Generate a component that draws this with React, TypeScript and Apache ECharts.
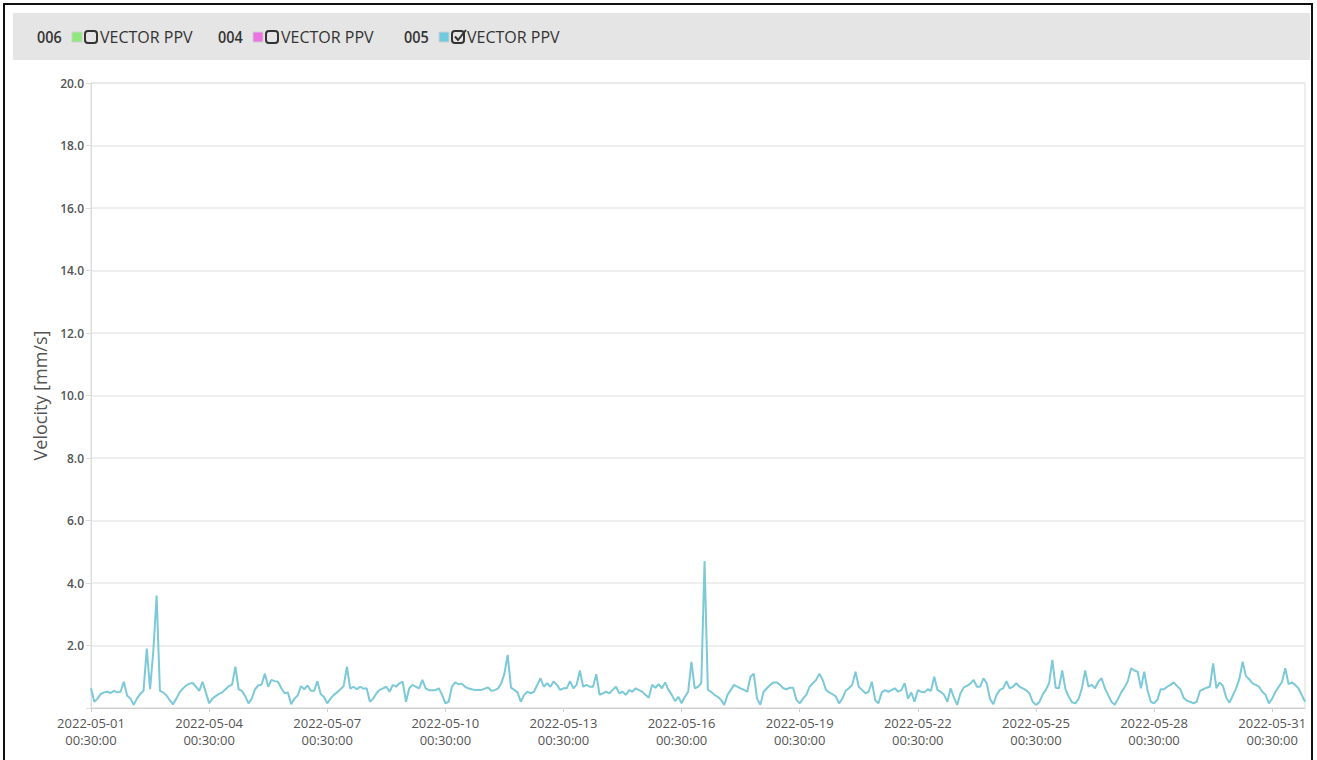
import { useEffect, useRef } from 'react';
import * as echarts from 'echarts';

// ---- axis data ----
const xTickDates = [
  '2022-05-01', '2022-05-04', '2022-05-07', '2022-05-10', '2022-05-13', '2022-05-16',
  '2022-05-19', '2022-05-22', '2022-05-25', '2022-05-28', '2022-05-31',
];
const xTickTime = '00:30:00';
const stepHours = 2; // one sample every 2 h starting 2022-05-01 00:30
const tickEveryHours = 72;
const xMaxHours = 740;
const yMin = 0;
const yMax = 20;
const yInterval = 2;
const yAxisName = 'Velocity [mm/s]';

// ---- legend ----
const legendIds = ['006', '004', '005'];
const legendColors = ['#8fe87a', '#ea72e2', '#70cbe0'];
const legendChecked = [false, false, true];
const legendLabel = 'VECTOR PPV';

// ---- series 005 VECTOR PPV (mm/s), 2-hour samples ----
const week1 = [
  0.63, 0.2, 0.3, 0.45, 0.5, 0.52, 0.48, 0.55, 0.5, 0.52, 0.84, 0.4,
  0.3, 0.1, 0.3, 0.45, 0.55, 1.9, 0.6, 1.83, 3.6, 0.55, 0.5, 0.4,
  0.25, 0.12, 0.3, 0.5, 0.62, 0.72, 0.78, 0.8, 0.68, 0.55, 0.84, 0.5,
  0.15, 0.3, 0.38, 0.45, 0.5, 0.6, 0.7, 0.75, 1.32, 0.6, 0.55, 0.38,
  0.15, 0.3, 0.6, 0.72, 0.75, 1.1, 0.68, 0.9, 0.86, 0.84, 0.63, 0.47,
  0.5, 0.12, 0.3, 0.4, 0.7, 0.6, 0.72, 0.55, 0.55, 0.86, 0.45, 0.35,
  0.15, 0.3, 0.42, 0.5, 0.6, 0.7, 1.32, 0.62, 0.68, 0.6, 0.68, 0.62,
];
const week2 = [
  0.63, 0.2, 0.3, 0.47, 0.58, 0.63, 0.68, 0.52, 0.74, 0.68, 0.79, 0.84,
  0.2, 0.63, 0.74, 0.68, 0.63, 0.9, 0.63, 0.57, 0.57, 0.57, 0.63, 0.42,
  0.15, 0.2, 0.68, 0.82, 0.76, 0.78, 0.68, 0.63, 0.6, 0.58, 0.58, 0.58,
  0.62, 0.66, 0.55, 0.57, 0.62, 0.78, 1.1, 1.7, 0.65, 0.58, 0.5, 0.2,
  0.42, 0.52, 0.47, 0.52, 0.74, 0.95, 0.68, 0.79, 0.68, 0.85, 0.74, 0.58,
  0.63, 0.63, 0.86, 0.63, 0.74, 1.2, 0.68, 0.74, 0.68, 0.68, 1.08, 0.42,
  0.47, 0.52, 0.47, 0.58, 0.68, 0.47, 0.52, 0.42, 0.57, 0.52, 0.63, 0.57,
];
const week3 = [
  0.52, 0.42, 0.33, 0.74, 0.65, 0.76, 0.63, 0.82, 0.58, 0.42, 0.22, 0.36,
  0.15, 0.36, 0.52, 1.48, 0.63, 0.68, 0.79, 4.7, 0.58, 0.52, 0.42, 0.36,
  0.26, 0.1, 0.42, 0.58, 0.74, 0.68, 0.63, 0.58, 0.52, 1.0, 1.1, 0.3,
  0.1, 0.52, 0.63, 0.74, 0.82, 0.82, 0.74, 0.63, 0.6, 0.65, 0.65, 0.26,
  0.15, 0.3, 0.42, 0.68, 0.79, 0.9, 1.1, 0.9, 0.58, 0.5, 0.44, 0.37,
  0.15, 0.3, 0.55, 0.63, 0.74, 1.16, 0.68, 0.58, 0.47, 0.52, 0.84, 0.25,
  0.15, 0.5, 0.57, 0.52, 0.57, 0.63, 0.52, 0.58, 0.79, 0.3, 0.5, 0.2,
];
const week4 = [
  0.57, 0.52, 0.5, 0.6, 0.55, 1.0, 0.57, 0.52, 0.42, 0.2, 0.63, 0.33,
  0.1, 0.47, 0.66, 0.71, 0.78, 0.9, 0.68, 0.68, 0.95, 0.79, 0.29, 0.12,
  0.42, 0.58, 0.63, 0.86, 0.63, 0.68, 0.79, 0.68, 0.63, 0.57, 0.47, 0.2,
  0.1, 0.18, 0.42, 0.58, 0.79, 1.54, 0.65, 0.63, 1.2, 0.6, 0.36, 0.18,
  0.15, 0.29, 0.63, 1.2, 0.68, 0.74, 0.63, 0.84, 0.95, 0.63, 0.42, 0.2,
  0.1, 0.29, 0.5, 0.66, 0.86, 1.27, 1.2, 1.16, 0.63, 1.16, 0.57, 0.2,
  0.15, 0.26, 0.6, 0.6, 0.68, 0.74, 0.82, 0.7, 0.6, 0.33, 0.23, 0.2,
];
const week5 = [
  0.15, 0.2, 0.55, 0.6, 0.65, 0.68, 1.43, 0.63, 0.82, 0.7, 0.33, 0.17,
  0.4, 0.63, 0.93, 1.48, 1.02, 0.92, 0.79, 0.74, 0.68, 0.52, 0.42, 0.15,
  0.3, 0.52, 0.68, 0.84, 1.27, 0.76, 0.82, 0.74, 0.63, 0.42, 0.2,
];
const ppv005 = [...week1, ...week2, ...week3, ...week4, ...week5];

const FONT = '"Open Sans", "Noto Sans", sans-serif';

function buildLegend(): any[] {
  const els: any[] = [];
  const groupStart = [37, 218, 404];
  legendIds.forEach((id, i) => {
    const x0 = groupStart[i];
    els.push({
      type: 'text',
      x: x0,
      y: 37,
      scaleX: 0.9,
      style: { text: id, font: `600 16px ${FONT}`, fill: '#333', verticalAlign: 'middle' },
    });
    els.push({
      type: 'rect',
      shape: { x: x0 + 35, y: 32, width: 10, height: 10 },
      style: { fill: legendColors[i], stroke: '#d0d0d0', lineWidth: 1 },
    });
    els.push({
      type: 'rect',
      shape: { x: x0 + 48, y: 31, width: 12, height: 12, r: 3 },
      style: { fill: 'none', stroke: '#333', lineWidth: 2 },
    });
    if (legendChecked[i]) {
      els.push({
        type: 'polyline',
        shape: { points: [[x0 + 51, 36.5], [x0 + 54, 40], [x0 + 62, 30]] },
        style: { fill: 'none', stroke: '#333', lineWidth: 2 },
      });
    }
    els.push({
      type: 'text',
      x: x0 + 63,
      y: 37,
      style: { text: legendLabel, font: `16px ${FONT}`, fill: '#333', verticalAlign: 'middle' },
    });
  });
  return els;
}

export default function App() {
  const ref = useRef<HTMLDivElement>(null);
  useEffect(() => {
    if (!ref.current) return;
    const chart = echarts.init(ref.current, undefined, { renderer: 'svg' });
    const data = ppv005.map((v, i) => [i * stepHours, v]);
    chart.setOption({
      animation: false,
      backgroundColor: '#ffffff',
      grid: {
        left: 91,
        top: 83,
        right: 12,
        bottom: 52,
        show: true,
        borderColor: '#dcdcdc',
        borderWidth: 1,
      },
      graphic: [
        {
          type: 'rect',
          shape: { x: 13, y: 13, width: 1297, height: 47 },
          style: { fill: '#e5e5e5' },
        },
        {
          type: 'rect',
          shape: { x: 4, y: 4, width: 1308, height: 770 },
          style: { fill: 'none', stroke: '#111', lineWidth: 2 },
        },
        ...buildLegend(),
      ],
      xAxis: {
        type: 'value',
        min: 0,
        max: xMaxHours,
        interval: tickEveryHours,
        splitLine: { show: false },
        axisLine: { show: true, lineStyle: { color: '#cfcfcf', width: 1 } },
        axisTick: { show: true, length: 4, lineStyle: { color: '#cfcfcf' } },
        axisLabel: {
          showMaxLabel: false,
          margin: 6,
          color: '#555',
          fontFamily: FONT,
          fontSize: 13,
          lineHeight: 17,
          formatter: (v: number) => {
            if (v % tickEveryHours !== 0) return '';
            const i = v / tickEveryHours;
            return xTickDates[i] ? `${xTickDates[i]}\n${xTickTime}` : '';
          },
        },
      },
      yAxis: {
        type: 'value',
        min: yMin,
        max: yMax,
        interval: yInterval,
        name: yAxisName,
        nameLocation: 'middle',
        nameGap: 40,
        nameTextStyle: { color: '#555', fontFamily: FONT, fontSize: 18 },
        axisLine: { show: true, lineStyle: { color: '#dcdcdc' } },
        axisTick: { show: true, length: 5, lineStyle: { color: '#dcdcdc' } },
        splitLine: { show: true, lineStyle: { color: '#e8e8e8', width: 1.5 } },
        axisLabel: {
          margin: 7,
          color: '#555',
          fontFamily: FONT,
          fontSize: 12,
          fontWeight: 600,
          formatter: (v: number) => (v === 0 ? '' : v.toFixed(1)),
        },
      },
      series: [
        {
          name: '005 VECTOR PPV',
          type: 'line',
          data,
          showSymbol: false,
          symbol: 'none',
          lineStyle: { color: '#7cc9d8', width: 2 },
          itemStyle: { color: '#7cc9d8' },
        },
      ],
    });
    return () => chart.dispose();
  }, []);
  return (
    <div
      ref={ref}
      style={{ position: 'fixed', left: 0, top: 0, width: 1317, height: 760, background: '#fff' }}
    />
  );
}
